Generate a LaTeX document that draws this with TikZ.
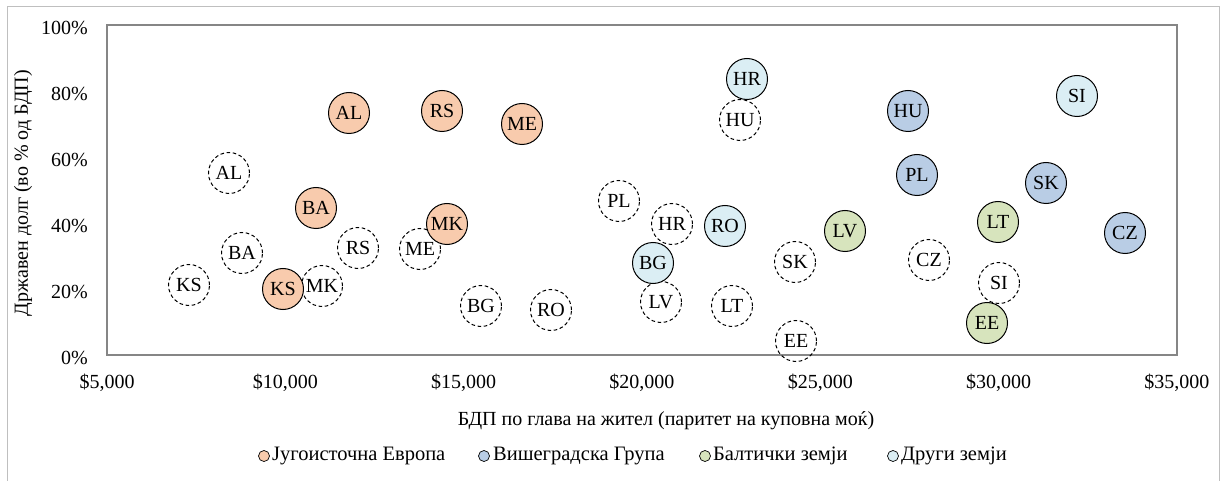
\documentclass[tikz,border=0pt]{standalone}
\usepackage{fontspec}
\setmainfont{Liberation Serif}
\definecolor{cSEE}{HTML}{F8CBAD}
\definecolor{cVG}{HTML}{B9CDE5}
\definecolor{cBAL}{HTML}{D7E4BD}
\definecolor{cOTH}{HTML}{DBEEF4}
\definecolor{frameg}{HTML}{BFBFBF}
\definecolor{axisg}{HTML}{868686}
\tikzset{
  txt/.style={font=\fontsize{20}{20}\selectfont, inner sep=0pt},
  legtxt/.style={font=\fontsize{20.5}{20.5}\selectfont, inner sep=0pt},
  bub/.style={circle, draw=black, line width=1pt, minimum size=41pt, inner sep=0pt, font=\fontsize{20}{20}\selectfont},
  dbub/.style={bub, dash pattern=on 3.6pt off 2.6pt, line width=1pt},
  see/.style={bub, fill=cSEE},
  vg/.style={bub, fill=cVG},
  bal/.style={bub, fill=cBAL},
  oth/.style={bub, fill=cOTH},
  legm/.style={circle, draw=black, line width=0.7pt, minimum size=11pt, inner sep=0pt},
}
\begin{document}
\begin{tikzpicture}[x=1pt,y=-1pt]
\useasboundingbox (0,0) rectangle (1221,481);
% chart frame
\draw[frameg, line width=1pt] (7,481) -- (7,7) -- (1219,7) -- (1219,481);
% plot area
\draw[axisg, line width=1.2pt] (107,25) rectangle (1177,355);
% y tick labels
\foreach \p/\yy in {0/355, 20/289, 40/223, 60/157, 80/91, 100/25}
  \node[txt, anchor=east] (yl\p) at (88,\yy+2.5) {\p\%};
% x tick labels
\foreach \v [count=\i from 0] in {5,10,15,20,25,30,35}
  \node[txt] (xl\i) at (107+178.33*\i,383) {\$\v,000};
% axis titles
\node[txt, rotate=90] (ytitle) at (23,193) {Државен долг (во \% од БДП)};
\node[txt] (xtitle) at (666,421) {БДП по глава на жител (паритет на куповна моќ)};
% dashed bubbles
\node[dbub] (dAL) at (229,173) {AL};
\node[dbub] (dBA) at (242,253) {BA};
\node[dbub] (dKS) at (189,285) {KS};
\node[dbub] (dMK) at (322,286) {MK};
\node[dbub] (dRS) at (358,248) {RS};
\node[dbub] (dME) at (420,249) {ME};
\node[dbub] (dBG) at (481,306) {BG};
\node[dbub] (dRO) at (551,310) {RO};
\node[dbub] (dPL) at (619,201) {PL};
\node[dbub] (dLV) at (661,302) {LV};
\node[dbub] (dHR) at (672,224) {HR};
\node[dbub] (dHU) at (740,120) {HU};
\node[dbub] (dLT) at (732,306) {LT};
\node[dbub] (dEE) at (796,341) {EE};
\node[dbub] (dSK) at (795,262) {SK};
\node[dbub] (dCZ) at (929,260) {CZ};
\node[dbub] (dSI) at (999,283) {SI};
% filled bubbles
\node[see] (AL) at (349,113) {AL};
\node[see] (RS) at (442,111) {RS};
\node[see] (ME) at (522,124) {ME};
\node[see] (BA) at (316,208) {BA};
\node[see] (MK) at (447,224) {MK};
\node[see] (KS) at (283,289) {KS};
\node[vg] (HU) at (908,111) {HU};
\node[vg] (PL) at (917,175) {PL};
\node[vg] (SK) at (1046,183) {SK};
\node[vg] (CZ) at (1125,233) {CZ};
\node[bal] (LV) at (845,231) {LV};
\node[bal] (LT) at (998,222) {LT};
\node[bal] (EE) at (987,323) {EE};
\node[oth] (HR) at (747,79) {HR};
\node[oth] (RO) at (725,226) {RO};
\node[oth] (BG) at (653,263) {BG};
\node[oth] (SI) at (1077,96) {SI};
% legend
\node[legm, fill=cSEE] (m1) at (264,456) {};
\node[legtxt, anchor=west] (l1) at (272,456) {Југоисточна Европа};
\node[legm, fill=cVG] (m2) at (484,456) {};
\node[legtxt, anchor=west] (l2) at (493,456) {Вишеградска Група};
\node[legm, fill=cBAL] (m3) at (705,456) {};
\node[legtxt, anchor=west] (l3) at (713,456) {Балтички земји};
\node[legm, fill=cOTH] (m4) at (893,456) {};
\node[legtxt, anchor=west] (l4) at (901,456) {Други земји};
\end{tikzpicture}
\end{document}
